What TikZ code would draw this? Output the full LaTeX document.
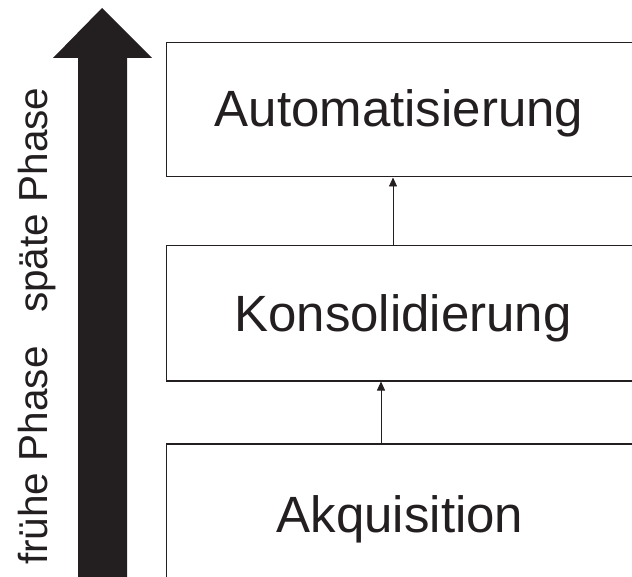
\documentclass[tikz,border=0pt]{standalone}
\usepackage{fontspec}
\setmainfont{Liberation Sans}
\usetikzlibrary{arrows.meta}
\definecolor{ink}{HTML}{231F20}
\begin{document}
\begin{tikzpicture}[x=1pt,y=1pt,
  box/.style={draw=ink, line width=1.5pt, anchor=north west, minimum width=490pt, inner sep=0pt},
  big/.style={text=ink, font=\fontsize{51}{60}\selectfont, anchor=base, inner sep=0pt},
  side/.style={text=ink, font=\fontsize{40.5}{48}\selectfont, rotate=90, anchor=base west, inner sep=0pt},
  conn/.style={draw=ink, line width=0.8pt, -{Triangle[length=9pt,width=8pt]}}]
\useasboundingbox (0,0) rectangle (632,-577);
\clip (0,0) rectangle (632,-577);
% big arrow
\fill[ink] (102,-8) -- (152,-58) -- (127,-58) -- (127,-580) -- (78,-580) -- (78,-58) -- (53,-58) -- cycle;
% boxes
\node[box, minimum height=134pt] (top) at (165.5,-42) {};
\node[box, minimum height=135pt] (mid) at (165.5,-245) {};
\node[box, minimum height=145pt] (bot) at (165.5,-443) {};
% texts
\node[big] (t1) at (399,-127) {Automatisierung};
\node[big] (t2) at (403,-332) {Konsolidierung};
\node[big] (t3) at (400,-532) {Akquisition};
\node[side] (s1) at (47,-565) {frühe Phase};
\node[side] (s2) at (47,-313) {späte Phase};
% connectors
\coordinate (c1) at (381,0);
\coordinate (c2) at (393,0);
\draw[conn] (c1 |- bot.north) -- (c1 |- mid.south);
\draw[conn] (c2 |- mid.north) -- (c2 |- top.south);
\end{tikzpicture}
\end{document}
